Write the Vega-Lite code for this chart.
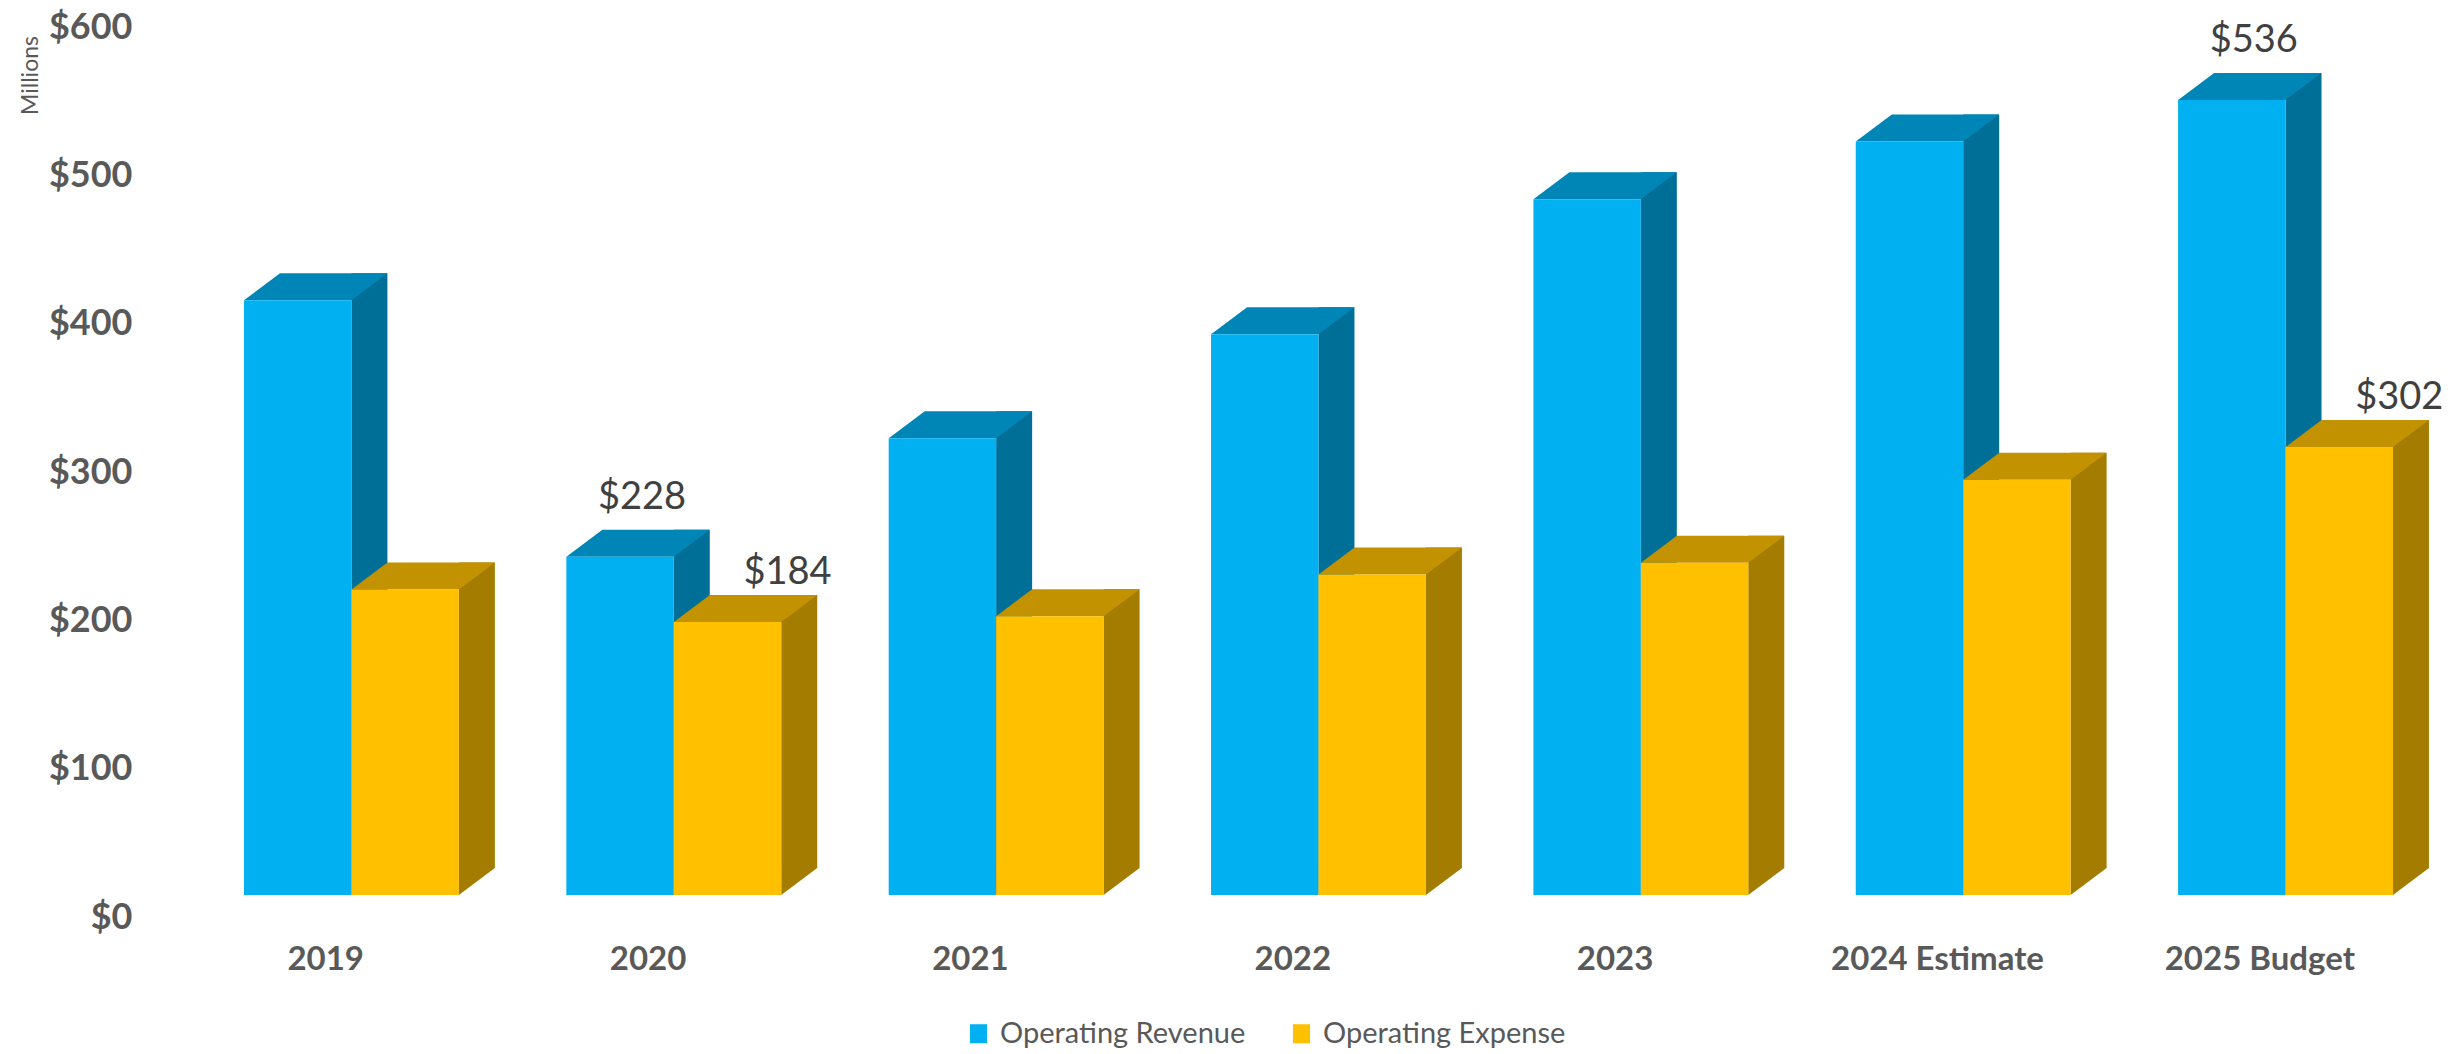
{
  "$schema": "https://vega.github.io/schema/vega-lite/v6.json",
  "width": 2149,
  "height": 890,
  "autosize": {"type": "none"},
  "padding": {"left": 244, "top": 5, "right": 71, "bottom": 159},
  "background": "white",
  "config": {"view": {"stroke": null}, "font": "Lato"},
  "data": {
    "values": [
      {"Year": "2019", "Series": "Operating Revenue", "Bar": "2019|R", "Value": 401},
      {"Year": "2019", "Series": "Operating Expense", "Bar": "2019|E", "Value": 206},
      {"Year": "2020", "Series": "Operating Revenue", "Bar": "2020|R", "Value": 228},
      {"Year": "2020", "Series": "Operating Expense", "Bar": "2020|E", "Value": 184},
      {"Year": "2021", "Series": "Operating Revenue", "Bar": "2021|R", "Value": 308},
      {"Year": "2021", "Series": "Operating Expense", "Bar": "2021|E", "Value": 188},
      {"Year": "2022", "Series": "Operating Revenue", "Bar": "2022|R", "Value": 378},
      {"Year": "2022", "Series": "Operating Expense", "Bar": "2022|E", "Value": 216},
      {"Year": "2023", "Series": "Operating Revenue", "Bar": "2023|R", "Value": 469},
      {"Year": "2023", "Series": "Operating Expense", "Bar": "2023|E", "Value": 224},
      {"Year": "2024 Estimate", "Series": "Operating Revenue", "Bar": "2024 Estimate|R", "Value": 508},
      {"Year": "2024 Estimate", "Series": "Operating Expense", "Bar": "2024 Estimate|E", "Value": 280},
      {"Year": "2025 Budget", "Series": "Operating Revenue", "Bar": "2025 Budget|R", "Value": 536},
      {"Year": "2025 Budget", "Series": "Operating Expense", "Bar": "2025 Budget|E", "Value": 302}
    ]
  },
  "encoding": {
    "x": {
      "field": "Bar",
      "type": "nominal",
      "sort": null,
      "scale": {
        "domain": ["2019|R", "2019|E", "gap1|", "2020|R", "2020|E", "gap2|", "2021|R", "2021|E", "gap3|", "2022|R", "2022|E", "gap4|", "2023|R", "2023|E", "gap5|", "2024 Estimate|R", "2024 Estimate|E", "gap6|", "2025 Budget|R", "2025 Budget|E"],
        "paddingInner": 0,
        "paddingOuter": 0
      },
      "axis": {
        "title": null,
        "domain": false,
        "ticks": false,
        "grid": false,
        "labelAngle": 0,
        "labelExpr": "split(datum.value, '|')[1] == 'R' ? split(datum.value, '|')[0] : ''",
        "labelOffset": 28,
        "labelPadding": 48,
        "labelOverlap": false,
        "labelBound": false,
        "labelLimit": 0,
        "labelFont": "Lato",
        "labelFontWeight": "bold",
        "labelFontSize": 33,
        "labelColor": "#595959"
      }
    },
    "y": {
      "field": "Value",
      "type": "quantitative",
      "scale": {"domain": [0, 600], "nice": false},
      "axis": {
        "title": "Millions",
        "titleFont": "Lato",
        "titleFontWeight": "normal",
        "titleFontSize": 23,
        "titleColor": "#595959",
        "titleAngle": -90,
        "titleAlign": "center",
        "titleBaseline": "middle",
        "titleX": -214,
        "titleY": 70,
        "values": [0, 100, 200, 300, 400, 500, 600],
        "format": "$,.0f",
        "domain": false,
        "ticks": false,
        "grid": false,
        "labelPadding": 112,
        "labelOffset": 22,
        "labelFont": "Lato",
        "labelFontWeight": "bold",
        "labelFontSize": 36,
        "labelColor": "#595959"
      }
    }
  },
  "layer": [
    {
      "mark": {"type": "bar", "width": 36, "xOffset": 71.7, "yOffset": -27, "y2Offset": -27},
      "encoding": {
        "y2": {"datum": 0},
        "color": {"field": "Series", "type": "nominal", "scale": {"domain": ["Operating Revenue", "Operating Expense"], "range": ["#006F97", "#A47D00"]}, "legend": null}
      }
    },
    {
      "mark": {"type": "point", "shape": "M53.7,0L53.7,-27L89.7,-27Z", "size": 4, "filled": true, "opacity": 1, "strokeWidth": 0},
      "encoding": {
        "y": {"datum": 0},
        "color": {"field": "Series", "type": "nominal", "scale": {"domain": ["Operating Revenue", "Operating Expense"], "range": ["#006F97", "#A47D00"]}, "legend": null}
      }
    },
    {
      "mark": {"type": "point", "shape": "M-53.7,0L-17.7,-27L89.7,-27L53.7,0Z", "size": 4, "filled": true, "opacity": 1, "strokeWidth": 0},
      "encoding": {
        "color": {"field": "Series", "type": "nominal", "scale": {"domain": ["Operating Revenue", "Operating Expense"], "range": ["#0086B6", "#C39200"]}, "legend": null}
      }
    },
    {
      "mark": {"type": "bar"},
      "encoding": {
        "y2": {"datum": 0},
        "color": {
          "field": "Series",
          "type": "nominal",
          "scale": {"domain": ["Operating Revenue", "Operating Expense"], "range": ["#00B0F0", "#FFC000"]},
          "legend": {
            "title": null,
            "orient": "none",
            "legendX": 720,
            "legendY": 1014,
            "direction": "horizontal",
            "symbolType": "M-0.9,-1H0.9V1H-0.9Z",
            "symbolSize": 361,
            "symbolStrokeWidth": 0,
            "symbolOpacity": 1,
            "labelFont": "Lato",
            "labelFontSize": 29,
            "labelColor": "#595959",
            "labelLimit": 0,
            "labelOffset": 7,
            "columnPadding": 41
          }
        }
      }
    },
    {
      "transform": [{"filter": "(datum.Year == '2020' || datum.Year == '2025 Budget') && datum.Series == 'Operating Revenue'"}],
      "mark": {"type": "text", "dx": 22, "dy": -59, "baseline": "middle", "align": "center", "fontSize": 38, "font": "Lato", "color": "#404040"},
      "encoding": {"text": {"field": "Value", "type": "quantitative", "format": "$,.0f"}}
    },
    {
      "transform": [{"filter": "(datum.Year == '2020' || datum.Year == '2025 Budget') && datum.Series == 'Operating Expense'"}],
      "mark": {"type": "text", "dx": 60, "dy": -49, "baseline": "middle", "align": "center", "fontSize": 38, "font": "Lato", "color": "#404040"},
      "encoding": {"text": {"field": "Value", "type": "quantitative", "format": "$,.0f"}}
    }
  ],
  "resolve": {"scale": {"color": "independent"}}
}
